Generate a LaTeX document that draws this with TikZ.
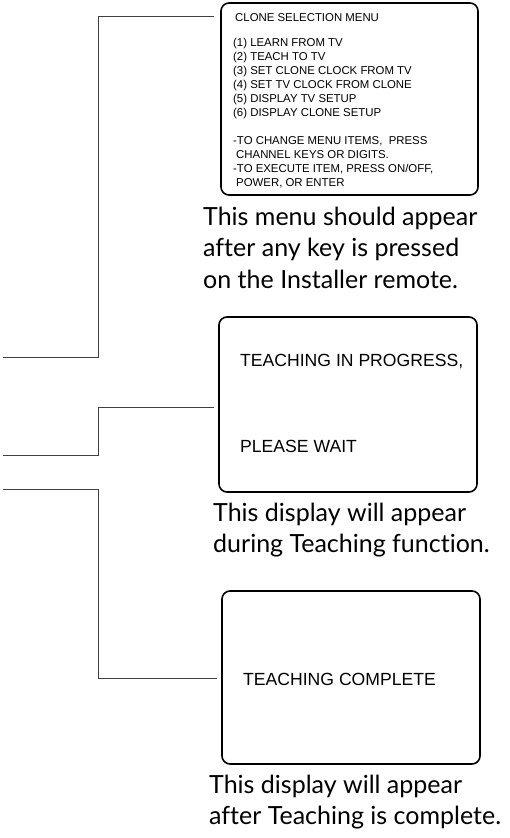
\documentclass[tikz,border=0pt]{standalone}
\usepackage{fontspec}
\setmainfont{Liberation Sans}
\newfontfamily\capfont[Ligatures=NoCommon]{Lato}
\usetikzlibrary{positioning}

\tikzset{
  screen/.style={draw, line width=1.6pt, rounded corners=8pt, inner sep=0pt},
  wire/.style={draw=black!75, line width=0.9pt},
  menutext/.style={font=\fontsize{11.4}{14}\selectfont, align=left, inner sep=0pt, anchor=north west},
  msgtext/.style={font=\fontsize{17.6}{20}\selectfont, inner sep=0pt, anchor=base west},
  caption/.style={font=\capfont\fontsize{25}{31.5}\selectfont, align=left, inner sep=0pt, anchor=north west}
}

\begin{document}
\begin{tikzpicture}[x=1pt,y=-1pt]
    \useasboundingbox (0,0) rectangle (509,838);

    % screens
    \node[screen, minimum width=257pt, minimum height=192pt] (menu) at (349.5,99) {};
    \node[screen, minimum width=258pt, minimum height=175pt] (progress) at (348,404.5) {};
    \node[screen, minimum width=258pt, minimum height=173pt] (complete) at (351,677.5) {};

    % screen texts
    \node[menutext] (menutxt) at (233,12.9) {\hspace{2pt}CLONE SELECTION MENU\\[11pt]
        (1) LEARN FROM TV\\
        (2) TEACH TO TV\\
        (3) SET CLONE CLOCK FROM TV\\
        (4) SET TV CLOCK FROM CLONE\\
        (5) DISPLAY TV SETUP\\
        (6) DISPLAY CLONE SETUP\\[14pt]
        -TO CHANGE MENU ITEMS,\ \ PRESS\\
        \hspace{3pt}CHANNEL KEYS OR DIGITS.\\
        -TO EXECUTE ITEM, PRESS ON/OFF,\\
        \hspace{3pt}POWER, OR ENTER};
    \node[msgtext] (prog1) at (240,366) {TEACHING IN PROGRESS,};
    \node[msgtext] (prog2) at (240,452.5) {PLEASE WAIT};
    \node[msgtext] (done) at (243,685) {TEACHING COMPLETE};

    % captions
    \node[caption] (cap1) at (203,206.5) {This menu should appear\\after any key is pressed\\on the Installer remote.};
    \node[caption] (cap2) at (213,502.5) {This display will appear\\during Teaching function.};
    \node[caption] (cap3) at (209,774.5) {This display will appear\\after Teaching is complete.};

    % connector ends
    \coordinate (menu-tap) at (214,16);
    \coordinate (menu-end) at (3,357);
    \coordinate (progress-tap) at (214,407);
    \coordinate (progress-end) at (3,455);
    \coordinate (complete-tap) at (217,678);
    \coordinate (complete-end) at (3,489);

    \draw[wire] (menu-tap) -- (98,16) |- (menu-end);
    \draw[wire] (progress-tap) -- (98,407) |- (progress-end);
    \draw[wire] (complete-end) -- (98,489) |- (complete-tap);
\end{tikzpicture}
\end{document}
